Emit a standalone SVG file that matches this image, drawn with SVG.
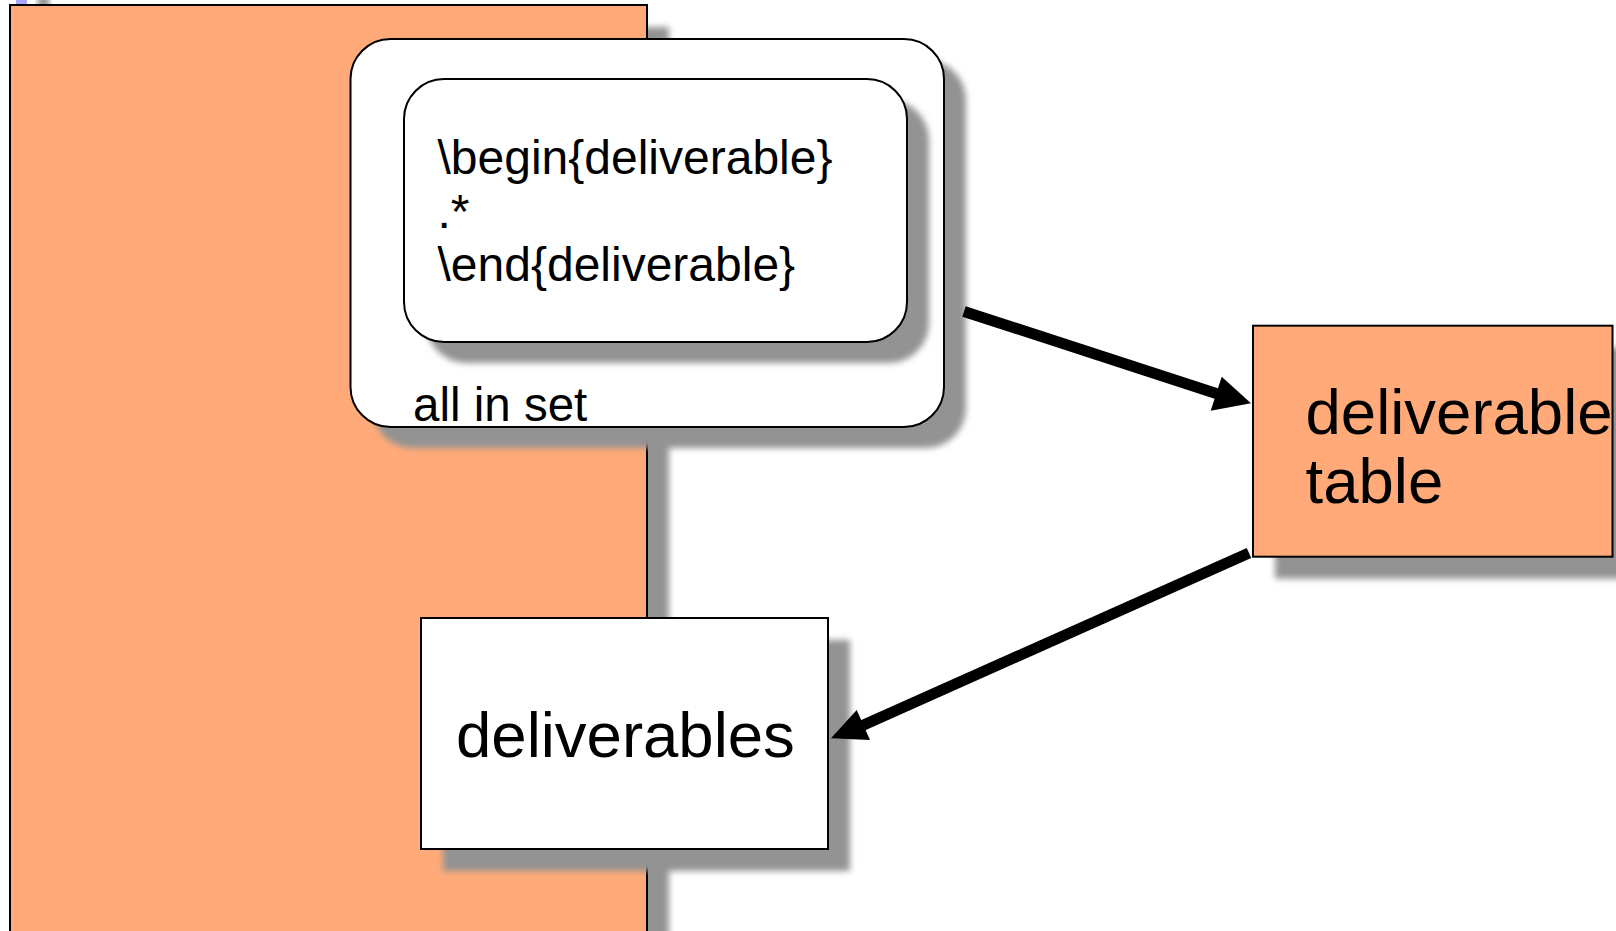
<svg xmlns="http://www.w3.org/2000/svg" width="1616" height="931" viewBox="0 0 1616 931">
<defs>
<style>
.shadow{fill:#939393;filter:url(#blur);}
.box{stroke:#000;stroke-width:2;}
.orange{fill:#ffaa78;}
.white{fill:#ffffff;}
.t{font-family:"Liberation Sans",Arial,sans-serif;fill:#000;}
.conn{stroke:#000;stroke-width:11;fill:none;}
.head{fill:#000;stroke:none;}
</style>
<filter id="blur" x="-20%" y="-20%" width="140%" height="140%">
<feGaussianBlur stdDeviation="3"/>
</filter>
</defs>
<rect width="1616" height="931" fill="#ffffff"/>

<g id="fragment">
<rect class="shadow" x="38" y="-18" width="11" height="45"/>
<rect x="16" y="-40" width="11" height="45" fill="#a8a8ff"/>
</g>

<g id="source">
<rect class="shadow" x="32" y="27" width="637" height="940"/>
<rect class="box orange" x="10" y="5" width="637" height="940"/>
</g>

<g id="all-in-set">
<rect class="shadow" x="372.5" y="60" width="593.5" height="388" rx="40"/>
<rect class="box white" x="350.5" y="39" width="593.5" height="388" rx="40"/>
<text class="t" x="413" y="420.7" font-size="47.5">all in set</text>
</g>

<g id="pattern">
<rect class="shadow" x="426" y="100" width="503" height="263" rx="40"/>
<rect class="box white" x="404" y="79" width="503" height="263" rx="40"/>
<text class="t" x="437.5" y="174" font-size="48">\begin{deliverable}</text>
<text class="t" x="437.5" y="228" font-size="48">.*</text>
<text class="t" x="437.5" y="281" font-size="48">\end{deliverable}</text>
</g>

<g id="deliverable-table">
<rect class="shadow" x="1275" y="347.7" width="360" height="231"/>
<rect class="box orange" x="1253" y="325.7" width="359.5" height="231"/>
<text class="t" x="1305.5" y="434" font-size="63.5">deliverable</text>
<text class="t" x="1305.5" y="503" font-size="63.5">table</text>
</g>

<g id="deliverables">
<rect class="shadow" x="443" y="640" width="407" height="231"/>
<rect class="box white" x="421" y="618" width="407" height="231"/>
<text class="t" x="456" y="757" font-size="63.5">deliverables</text>
</g>

<g id="connectors">
<line class="conn" x1="964" y1="311.4" x2="1217" y2="393.8"/>
<polygon class="head" points="1251,403.3 1221.7,376.7 1210.7,410.7"/>
<line class="conn" x1="1249" y1="553" x2="863" y2="725.2"/>
<polygon class="head" points="831,738.3 856.7,710 870,740"/>
</g>
</svg>
